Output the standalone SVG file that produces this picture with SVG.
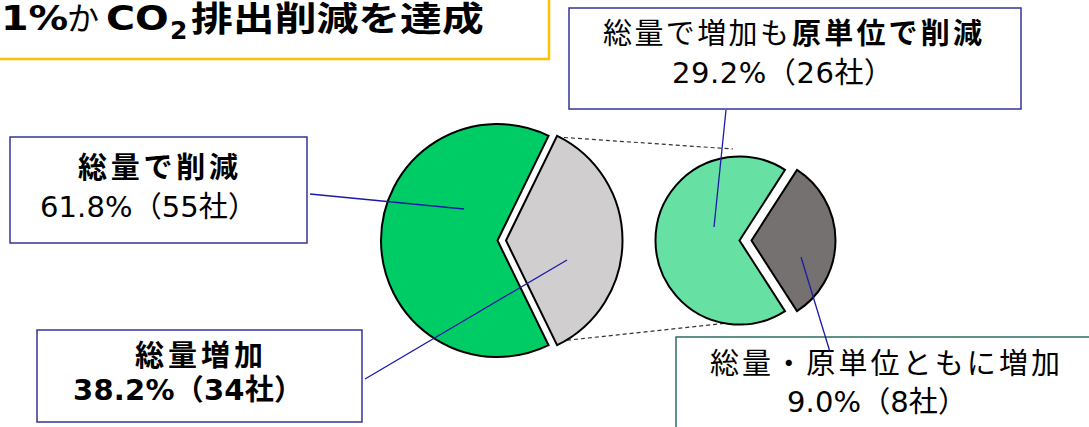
<svg xmlns="http://www.w3.org/2000/svg" width="1089" height="427" viewBox="0 0 1089 427">
<style>
  .t { font-family: "DejaVu Sans", "Noto Sans CJK JP", sans-serif; fill: #000; }
  .n { font-size: 29px; }
  .b { font-weight: bold; }
  .box { fill: #fff; stroke: #333399; stroke-width: 1.5; }
  .boxd { fill: #fff; stroke: #2d6b63; stroke-width: 1.5; }
  .pie { stroke: #000; stroke-width: 2; stroke-linejoin: miter; }
  .lead { stroke: #1a1aa6; stroke-width: 1.3; fill: none; }
  .dash { stroke: #333; stroke-width: 1.2; stroke-dasharray: 4 3; fill: none; }
</style>
<rect width="1089" height="427" fill="#fff"/>

<g id="title">
  <rect x="-10" y="-10" width="559" height="69" fill="#fff" stroke="#ffc000" stroke-width="2.5"/>
  <text class="t b" font-size="33" transform="translate(1 30) scale(1.2 1)">1%</text>
  <text class="t" font-size="32" x="67" y="30">か</text>
  <text class="t b" font-size="33" transform="translate(106 30) scale(1.2 1)">CO</text>
  <text class="t b" font-size="25" x="170" y="39">2</text>
  <text class="t b" font-size="34" transform="translate(191 31) scale(1.23 1)">排出削減を達成</text>
</g>

<g id="connectors">
  <line class="dash" x1="557" y1="137" x2="733" y2="149"/>
  <line class="dash" x1="560" y1="341" x2="747" y2="321"/>
</g>

<g id="pie-main">
  <path class="pie" fill="#00cc66" d="M497.5 240.5 L548.6 135.8 A116.5 116.5 0 1 0 548.6 345.2 Z"/>
  <path class="pie" fill="#d0cece" d="M506 240.5 L557.1 135.8 A116.5 116.5 0 0 1 557.1 345.2 Z"/>
</g>

<g id="pie-sub">
  <path class="pie" fill="#66e0a3" d="M739.5 240.5 L785 169.9 A84 84 0 1 0 785 311.1 Z"/>
  <path class="pie" fill="#767171" d="M751.5 240.5 L797 169.9 A84 84 0 0 1 797 311.1 Z"/>
</g>

<g id="box-a">
  <rect class="box" x="569" y="8" width="452" height="101"/>
  <text class="t n" y="44"><tspan x="603" textLength="186">総量で増加も</tspan><tspan x="792" class="b" textLength="190">原単位で削減</tspan></text>
  <text class="t n" x="672" y="83" textLength="221">29.2%（26社）</text>
</g>

<g id="box-b">
  <rect class="box" x="10" y="137" width="297" height="106"/>
  <text class="t n b" x="78" y="178" textLength="160">総量で削減</text>
  <text class="t n" x="40" y="217" textLength="217">61.8%（55社）</text>
</g>

<g id="box-c">
  <rect class="box" x="37" y="330" width="325" height="92"/>
  <text class="t n b" x="135" y="366" textLength="128">総量増加</text>
  <text class="t n b" x="73" y="400" textLength="230">38.2%（34社）</text>
</g>

<g id="box-d">
  <rect class="boxd" x="676" y="337" width="420" height="100"/>
  <text class="t n" x="710" y="374" textLength="350">総量・原単位ともに増加</text>
  <text class="t n" x="787" y="412" textLength="180">9.0%（8社）</text>
</g>

<g id="leaders">
  <line class="lead" x1="310" y1="194" x2="464" y2="209"/>
  <line class="lead" x1="365" y1="379" x2="567" y2="260"/>
  <line class="lead" x1="726" y1="110" x2="714" y2="227"/>
  <line class="lead" x1="801" y1="257" x2="830" y2="352"/>
</g>
</svg>
